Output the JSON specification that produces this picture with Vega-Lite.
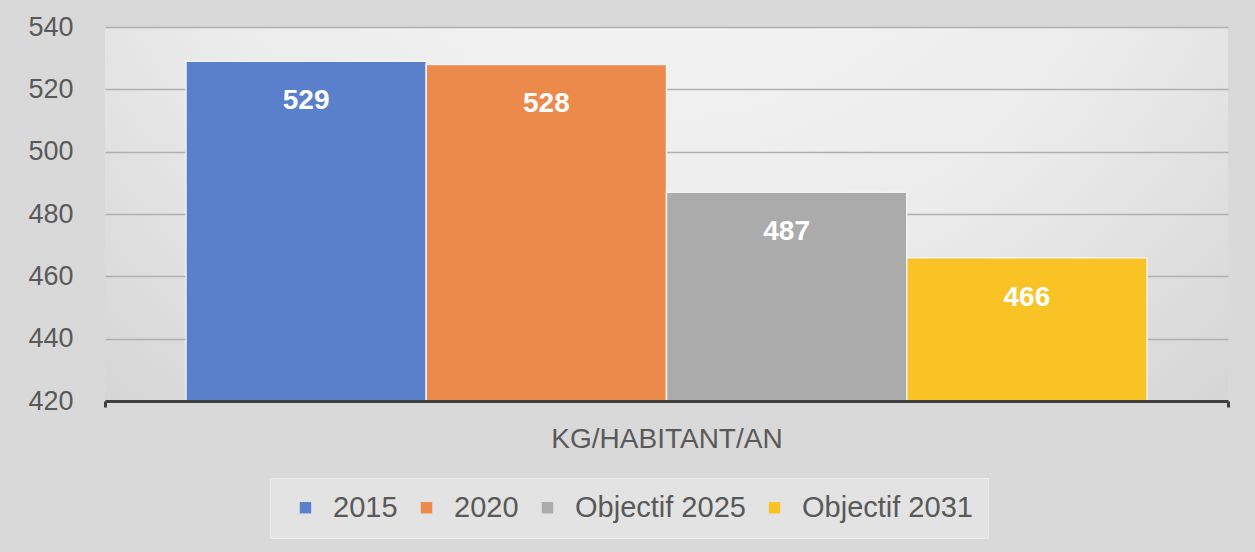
{
  "$schema": "https://vega.github.io/schema/vega-lite/v6.json",
  "width": 1123,
  "height": 374,
  "autosize": {"type": "none"},
  "padding": {"left": 105, "top": 27, "right": 27, "bottom": 151},
  "background": "#d9d9d9",
  "config": {
    "font": "Liberation Sans",
    "view": {
      "stroke": null,
      "fill": {
        "gradient": "radial",
        "x1": 0.5, "y1": 0.1, "r1": 0,
        "x2": 0.5, "y2": 0.1, "r2": 0.75,
        "stops": [
          {"offset": 0, "color": "#f7f7f7"},
          {"offset": 0.6, "color": "#ececec"},
          {"offset": 1, "color": "#d6d6d6"}
        ]
      }
    }
  },
  "data": {
    "values": [
      {"cat": "KG/HABITANT/AN", "serie": "2015", "val": 529},
      {"cat": "KG/HABITANT/AN", "serie": "2020", "val": 528},
      {"cat": "KG/HABITANT/AN", "serie": "Objectif 2025", "val": 487},
      {"cat": "KG/HABITANT/AN", "serie": "Objectif 2031", "val": 466}
    ]
  },
  "encoding": {
    "x": {
      "field": "cat",
      "type": "nominal",
      "scale": {"paddingInner": 0, "paddingOuter": 0},
      "axis": {
        "title": null,
        "zindex": 1,
        "labelAngle": 0,
        "labelFontSize": 28,
        "labelLimit": 1000,
        "labelColor": "#595959",
        "labelPadding": 18,
        "domainColor": "#404040",
        "domainWidth": 3,
        "tickBand": "extent",
        "tickColor": "#404040",
        "tickWidth": 3,
        "tickSize": 6
      }
    },
    "xOffset": {
      "field": "serie",
      "type": "nominal",
      "sort": ["2015", "2020", "Objectif 2025", "Objectif 2031"],
      "scale": {"paddingInner": 0, "paddingOuter": 0.337}
    },
    "y": {
      "field": "val",
      "type": "quantitative",
      "scale": {"domain": [420, 540], "nice": false, "zero": false},
      "axis": {
        "title": null,
        "values": [420, 440, 460, 480, 500, 520, 540],
        "domain": false,
        "ticks": false,
        "labelFontSize": 27,
        "labelColor": "#595959",
        "labelPadding": 32,
        "gridColor": "#b0b0b0",
        "gridWidth": 1.6
      }
    }
  },
  "layer": [
    {
      "mark": {"type": "bar", "stroke": "#f2f2f2", "strokeWidth": 1.5, "clip": true},
      "encoding": {
        "color": {
          "field": "serie",
          "type": "nominal",
          "sort": ["2015", "2020", "Objectif 2025", "Objectif 2031"],
          "scale": {
            "domain": ["2015", "2020", "Objectif 2025", "Objectif 2031"],
            "range": ["#5a80cb", "#ec8a4b", "#ababab", "#f9c326"]
          },
          "legend": {
            "title": null,
            "orient": "none",
            "legendX": 165,
            "legendY": 451,
            "direction": "horizontal",
            "fillColor": "#e3e3e3",
            "strokeColor": "#ebebeb",
            "padding": 15,
            "labelFontSize": 29,
            "labelLimit": 1000,
            "labelColor": "#595959",
            "symbolType": "square",
            "symbolSize": 130,
            "symbolStrokeWidth": 0,
            "symbolOffset": 6,
            "labelOffset": 13,
            "columnPadding": 8
          }
        }
      }
    },
    {
      "mark": {
        "type": "text",
        "align": "center",
        "baseline": "middle",
        "dy": 40,
        "fontSize": 28,
        "fontWeight": "bold",
        "color": "#ffffff"
      },
      "encoding": {
        "text": {"field": "val", "type": "quantitative"}
      }
    }
  ]
}
